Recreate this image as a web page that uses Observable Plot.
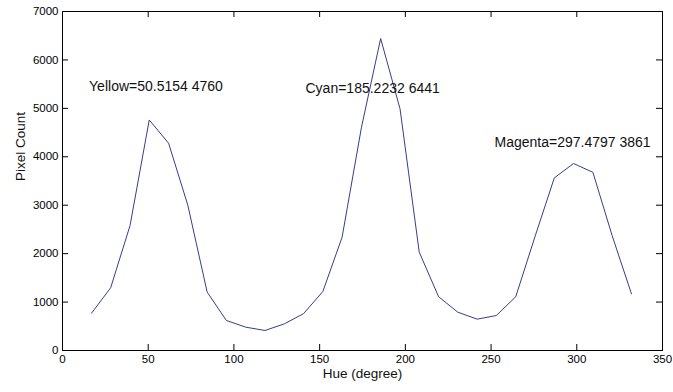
<!DOCTYPE html>
<html>
<head>
<meta charset="utf-8">
<script src="https://cdn.jsdelivr.net/npm/d3@7"></script>
<script src="https://cdn.jsdelivr.net/npm/@observablehq/plot@0.6"></script>
<style>
  html, body { margin: 0; padding: 0; background: #fff; }
  #chart svg { display: block; }
</style>
</head>
<body>
<div id="chart"></div>
<script>
// Hue bin centres (degrees) and pixel counts
const hue = [16.9, 28.1, 39.4, 50.6, 61.9, 73.1, 84.4, 95.6, 106.9, 118.1, 129.4, 140.6, 151.9, 163.1, 174.4, 185.6, 196.9, 208.1, 219.4, 230.6, 241.9, 253.1, 264.4, 275.6, 286.9, 298.1, 309.4, 320.6, 331.9];
const pixelCount = [770, 1295, 2580, 4760, 4280, 3000, 1205, 620, 482, 413, 550, 760, 1220, 2340, 4610, 6441, 4990, 2030, 1110, 791, 647, 723, 1110, 2350, 3565, 3861, 3680, 2375, 1170];

const xTicks = [0, 50, 100, 150, 200, 250, 300, 350];
const yTicks = [0, 1000, 2000, 3000, 4000, 5000, 6000, 7000];

const noteText = ["Yellow=50.5154 4760", "Cyan=185.2232 6441", "Magenta=297.4797 3861"];
const noteX = [15.5, 141.75, 252.0];
const noteY = [5450, 5410, 4295];

const W = 673, H = 392;
const mL = 62, mR = 11, mT = 11, mB = 42;
const innerW = W - mL - mR, innerH = H - mT - mB;
const tickLen = 6;

const series = hue.map((h, i) => ({hue: h, count: pixelCount[i]}));
const notes = noteText.map((t, i) => ({text: t, x: noteX[i], y: noteY[i]}));

const chart = Plot.plot({
  width: W,
  height: H,
  marginLeft: mL,
  marginRight: mR,
  marginTop: mT,
  marginBottom: mB,
  style: {fontFamily: "'Liberation Sans', Arial, sans-serif", background: "#fff", color: "#000"},
  x: {domain: [0, 350], ticks: xTicks},
  y: {domain: [0, 7000], ticks: yTicks},
  marks: [
    // inward ticks on all four sides
    Plot.tickX(xTicks, {x: d => d, insetTop: innerH - tickLen, stroke: "#000"}),
    Plot.tickX(xTicks, {x: d => d, insetBottom: innerH - tickLen, stroke: "#000"}),
    Plot.tickY(yTicks, {y: d => d, insetRight: innerW - tickLen, stroke: "#000"}),
    Plot.tickY(yTicks, {y: d => d, insetLeft: innerW - tickLen, stroke: "#000"}),
    Plot.axisX({ticks: xTicks, tickSize: 0, tickPadding: 4, fontSize: 11.5, label: null, tickFormat: d => String(d)}),
    Plot.axisY({ticks: yTicks, tickSize: 0, tickPadding: 4, fontSize: 11.5, label: null, tickFormat: d => String(d)}),
    Plot.frame({stroke: "#000", strokeWidth: 1}),
    Plot.line(series, {x: "hue", y: "count", stroke: "#3b3b8c", strokeWidth: 1}),
    Plot.text(notes, {x: "x", y: "y", text: "text", textAnchor: "start", fontSize: 14, fill: "#111"}),
    Plot.text(["Hue (degree)"], {frameAnchor: "bottom", dy: 27, fontSize: 13.5, fill: "#111"}),
    Plot.text(["Pixel Count"], {frameAnchor: "left", dx: -42, rotate: -90, fontSize: 13.5, fill: "#111"})
  ]
});

document.getElementById("chart").appendChild(chart);
</script>
</body>
</html>
